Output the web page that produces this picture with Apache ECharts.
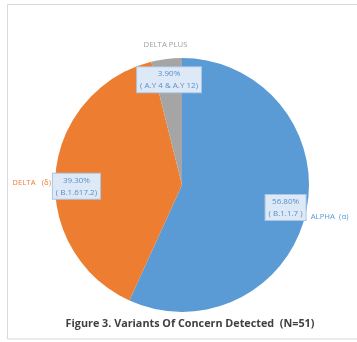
<!DOCTYPE html>
<html><head><meta charset="utf-8">
<script src="https://cdn.jsdelivr.net/npm/echarts@6/dist/echarts.min.js"></script>
<style>html,body{margin:0;padding:0;background:#fff}#c{width:357px;height:342px}</style>
</head><body><div id="c"></div>
<script>
const names = ['ALPHA  (α)', 'DELTA   (δ)', 'DELTA PLUS'];
const values = [56.8, 39.3, 3.9];
const lineages = ['( B.1.1.7 )', '( B.1.617.2)', '( A.Y 4 & A.Y 12)'];
const colors = ['#5b9bd5', '#ed7d31', '#a5a5a5'];
const nameColors = ['#5b9bd5', '#e9823f', '#a0a0a0'];
const title = 'Figure 3. Variants Of Concern Detected  (N=51)';

const center = [182, 185];
const R = 127;
const boxOffsets = [[0, 0], [0, 11], [0, 0]];
const nameOffsets = [[0, 0], [0, 12], [2, 10]];
const baseData = names.map((n, i) => ({name: n, value: values[i], idx: i}));

const chart = echarts.init(document.getElementById('c'));
chart.setOption({
  animation: false,
  title: {text: title, left: 185, top: 313, textAlign: 'center',
    textStyle: {fontFamily: 'Open Sans', fontWeight: 'bold', fontSize: 10.8, color: '#404040'}},
  graphic: [{type: 'rect', shape: {x: 7.5, y: 4.5, width: 360, height: 334.5},
    style: {fill: 'none', stroke: '#d9d9d9', lineWidth: 1}, silent: true}],
  series: [
    {type: 'pie', center: center, radius: [0, R], startAngle: 90, clockwise: true,
     label: {show: false}, labelLine: {show: false},
     data: baseData.map(d => ({...d, itemStyle: {color: colors[d.idx]}})),
     itemStyle: {borderWidth: 0}},
    {type: 'pie', center: center, radius: [0, 206], startAngle: 90, silent: true, z: 3,
     itemStyle: {color: 'rgba(0,0,0,0)'}, labelLine: {show: false},
     label: {show: true, position: 'inside', fontFamily: 'Open Sans', fontSize: 8, lineHeight: 12,
       color: '#5b8fc9', backgroundColor: '#dde9f6', borderColor: '#aac6e6', borderWidth: 1,
       padding: [1, 3, 0, 3], align: 'center',
       formatter: p => values[p.dataIndex].toFixed(2) + '%\n' + lineages[p.dataIndex]},
     data: baseData.map(d => ({...d, label: {offset: boxOffsets[d.idx]}}))},
    {type: 'pie', center: center, radius: [0, 296], startAngle: 90, silent: true, z: 3,
     itemStyle: {color: 'rgba(0,0,0,0)'}, labelLine: {show: false},
     label: {show: true, position: 'inside', fontFamily: 'Open Sans', fontSize: 7.8,
       formatter: p => p.name},
     data: baseData.map(d => ({...d, label: {color: nameColors[d.idx], offset: nameOffsets[d.idx]}}))}
  ]
});
</script></body></html>
